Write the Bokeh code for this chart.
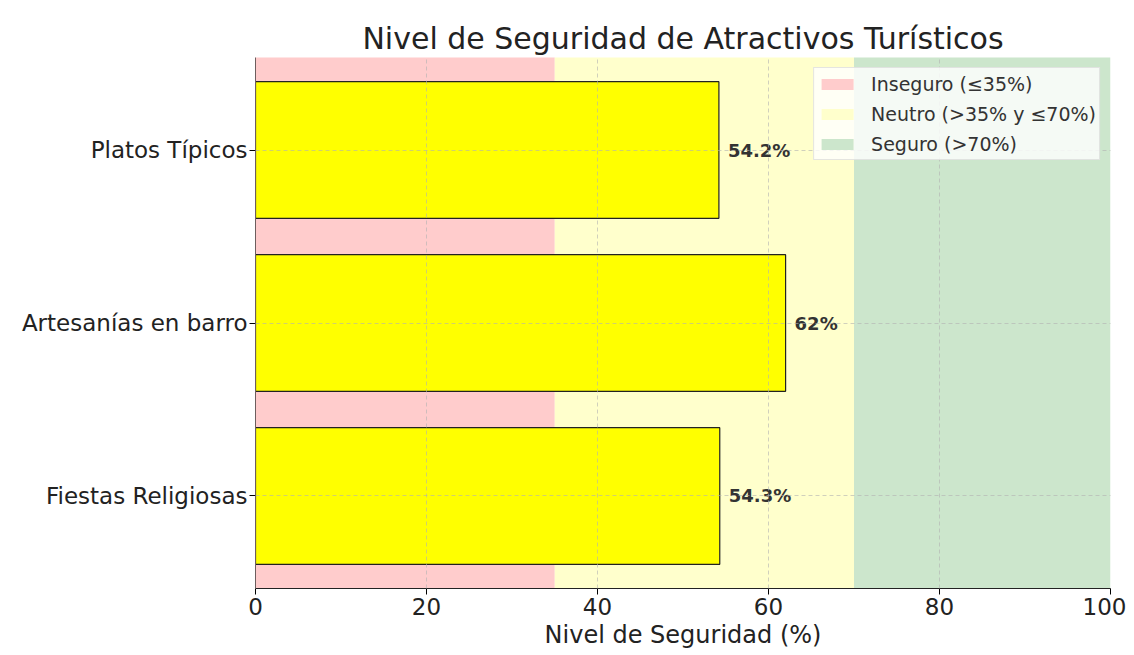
from bokeh.plotting import figure
from bokeh.models import Range1d, FixedTicker, Legend, LegendItem, ColumnDataSource
from bokeh.embed import file_html
from bokeh.resources import INLINE

categories = ["Fiestas Religiosas", "Artesanías en barro", "Platos Típicos"]
values = [54.3, 62.0, 54.2]
labels = ["54.3%", "62%", "54.2%"]

zone_left = [0, 35, 70]
zone_right = [35, 70, 100]
zone_colors = ["#ffcccc", "#ffffcc", "#cce6cc"]
zone_labels = ["Inseguro (≤35%)", "Neutro (>35% y ≤70%)", "Seguro (>70%)"]

FONT = "DejaVu Sans"

p = figure(frame_width=855, frame_height=531, output_backend="svg", toolbar_location=None,
           x_range=Range1d(0, 100), y_range=Range1d(-0.535, 2.535),
           min_border_left=255, min_border_right=16, min_border_top=57, min_border_bottom=55,
           title="Nivel de Seguridad de Atractivos Turísticos")
p.outline_line_color = None

p.title.align = "center"
p.title.text_font = FONT
p.title.text_font_size = "30px"
p.title.text_font_style = "normal"
p.title.text_color = "#222222"
p.title.standoff = 4

ypos = list(range(len(categories)))

items = []
for l, r, c, lab in zip(zone_left, zone_right, zone_colors, zone_labels):
    q = p.quad(left=[l], right=[r], bottom=[-5], top=[5], fill_color=c, line_color=None)
    items.append(LegendItem(label=lab, renderers=[q]))

src = ColumnDataSource(dict(y=ypos, v=values, lab=labels))
p.hbar(y="y", right="v", left=0, height=0.79, source=src,
       fill_color="#ffff00", line_color="#222222", line_width=1.2)

p.text(x="v", y="y", text="lab", source=src, x_offset=9,
       text_baseline="middle", text_align="left",
       text_font_size="18px", text_font_style="bold", text_color="#333333",
       text_font={"value": FONT})

legend = Legend(items=items, location="top_right")
legend.label_text_font = FONT
legend.label_text_font_size = "19px"
legend.label_text_color = "#333333"
legend.glyph_width = 40
legend.glyph_height = 14
legend.label_height = 25
legend.label_standoff = 14
legend.spacing = 5
legend.padding = 3
legend.margin = 10
legend.border_line_color = "#cccccc"
legend.background_fill_color = "white"
legend.background_fill_alpha = 0.8
p.add_layout(legend)

# axes
p.xaxis.ticker = FixedTicker(ticks=[0, 20, 40, 60, 80, 100])
p.yaxis.ticker = FixedTicker(ticks=ypos)
p.yaxis.major_label_overrides = {i: c for i, c in zip(ypos, categories)}
p.xaxis.axis_label = "Nivel de Seguridad (%)"
for ax in (p.xaxis[0], p.yaxis[0]):
    ax.major_label_text_font = FONT
    ax.major_label_text_color = "#222222"
    ax.axis_label_text_font = FONT
    ax.minor_tick_line_color = None
    ax.major_tick_in = 0
    ax.major_tick_out = 6
p.xaxis.major_label_text_font_size = "23px"
p.yaxis.major_label_text_font_size = "23px"
p.xaxis.major_label_standoff = 3
p.yaxis.major_label_standoff = 2
p.xaxis.axis_label_text_font_size = "24px"
p.xaxis.axis_label_text_font_style = "normal"
p.xaxis.axis_label_text_color = "#222222"
p.xaxis.axis_label_standoff = 3
p.xaxis.axis_line_color = "#222222"
p.yaxis.axis_line_color = "#6e5e5e"

for g in (p.xgrid[0], p.ygrid[0]):
    g.grid_line_color = "#b0b0b0"
    g.grid_line_dash = "4 3"
    g.grid_line_alpha = 0.6
    g.level = "overlay"

open("out.html", "w").write(file_html(p, INLINE))
